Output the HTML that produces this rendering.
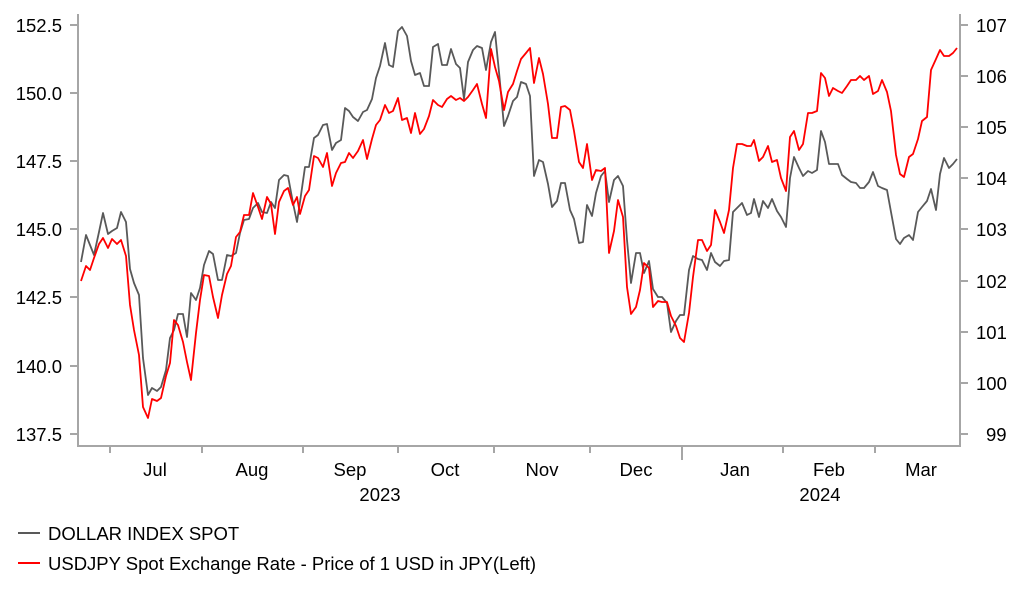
<!DOCTYPE html>
<html><head><meta charset="utf-8"><style>
body{margin:0;background:#fff;}
svg text{font-family:"Liberation Sans",Arial,sans-serif;font-size:18.5px;fill:#000;}
</style></head><body>
<svg width="1022" height="597" xmlns="http://www.w3.org/2000/svg">
<g stroke="#a6a6a6" stroke-width="2" fill="none">
<path d="M78,14V446H960V14"/>
<path d="M70,25H78M70,93H78M70,161H78M70,229H78M70,297H78M70,366H78M70,434H78"/>
<path d="M960,25H968M960,76H968M960,127H968M960,178H968M960,229H968M960,281H968M960,332H968M960,383H968M960,434H968"/>
<path d="M110,446V453M202,446V453M303,446V453M398,446V453M494,446V453M590,446V453M682,446V460M783,446V453M875,446V453"/>
</g>
<g text-anchor="end">
<text x="62" y="32">152.5</text><text x="62" y="100">150.0</text><text x="62" y="168">147.5</text><text x="62" y="236">145.0</text><text x="62" y="304">142.5</text><text x="62" y="373">140.0</text><text x="62" y="441">137.5</text>
</g>
<g text-anchor="start">
<text x="976" y="32">107</text><text x="976" y="83">106</text><text x="976" y="134">105</text><text x="976" y="185">104</text><text x="976" y="236">103</text><text x="976" y="288">102</text><text x="976" y="339">101</text><text x="976" y="390">100</text><text x="986" y="441">99</text>
</g>
<g text-anchor="middle">
<text x="155" y="476">Jul</text><text x="252" y="476">Aug</text><text x="350" y="476">Sep</text><text x="445" y="476">Oct</text><text x="542" y="476">Nov</text><text x="636" y="476">Dec</text><text x="735" y="476">Jan</text><text x="829" y="476">Feb</text><text x="921" y="476">Mar</text>
<text x="380" y="501">2023</text><text x="820" y="501">2024</text>
</g>
<polyline fill="none" stroke="#595959" stroke-width="1.8" stroke-linejoin="round" points="81,262 86,235 90,245 94,255 99,232 103,213 108,234 112,231 117,228 121,212 126,222 130,269 134,283 139,295 143,358 148,395 152,388 157,391 161,387 166,370 170,338 174,330 178,314 183,314 187,337 191,293 196,300 200,288 204,265 209,251 213,254 218,280 222,280 227,255 231,256 236,253 240,233 244,220 249,219 253,208 258,203 262,212 267,213 271,202 275,208 279,180 284,175 288,176 293,203 297,222 300,202 305,167 309,167 314,138 318,135 323,125 327,124 332,150 336,143 341,140 345,108 349,111 353,117 358,121 363,112 367,110 372,99 376,78 380,66 385,43 389,65 393,67 398,31 402,27 407,36 411,61 415,75 420,73 424,86 429,86 433,47 438,44 442,65 447,65 451,49 456,64 460,68 464,99 468,62 473,50 477,46 482,48 486,70 491,42 495,32 499,72 504,126 508,116 513,101 517,97 521,82 526,84 530,96 534,176 539,160 543,162 548,184 552,207 557,201 561,183 565,183 570,210 574,219 579,243 583,242 587,205 592,216 596,193 601,176 605,171 609,202 614,180 618,176 623,186 627,240 631,283 636,253 640,253 644,273 649,261 653,289 658,297 662,297 667,303 671,332 676,321 680,315 684,315 689,270 693,256 698,259 702,260 707,270 711,253 715,262 720,266 724,261 729,260 733,212 738,207 742,203 747,215 751,213 754,199 759,217 763,201 768,208 772,199 777,211 781,217 786,227 790,178 794,157 799,168 803,176 808,171 812,173 817,170 821,131 825,142 829,164 833,164 838,164 842,175 847,179 851,182 856,183 860,188 864,188 869,182 873,172 878,186 882,188 887,190 891,212 896,239 900,244 904,238 909,235 913,240 918,212 922,207 927,201 931,189 936,210 940,174 944,158 949,168 953,164 957,159"/>
<polyline fill="none" stroke="#ff0000" stroke-width="1.8" stroke-linejoin="round" points="81,281 86,266 90,270 94,258 99,244 103,238 108,248 112,239 117,244 121,240 126,256 130,305 134,330 139,355 143,407 148,418 152,399 157,401 161,398 166,376 170,363 174,320 178,325 183,342 187,362 191,380 196,333 200,300 204,275 209,276 213,297 218,318 222,295 227,274 231,266 236,237 240,232 244,215 249,215 253,193 258,207 262,219 267,197 271,204 275,234 279,202 284,191 288,188 293,205 297,197 300,214 305,196 309,190 314,156 318,158 323,167 327,153 332,186 336,173 341,163 345,162 349,153 353,158 358,151 363,140 367,159 372,139 376,125 380,120 385,105 389,113 393,111 398,98 402,120 407,118 411,133 415,113 420,134 424,129 429,116 433,100 438,105 442,107 447,99 451,96 456,100 460,98 464,101 468,97 473,90 477,84 482,104 486,118 491,49 495,67 499,81 504,110 508,92 513,84 517,71 521,59 526,53 530,48 534,83 539,58 543,74 548,104 552,138 557,138 561,107 565,106 570,110 574,131 579,162 583,168 587,144 592,180 596,170 601,171 605,168 609,253 614,231 618,200 623,217 627,287 631,314 636,307 640,290 644,263 649,268 653,307 658,301 662,302 667,302 671,316 676,326 680,338 684,342 689,313 693,277 698,240 702,240 707,251 711,245 715,210 720,222 724,233 729,210 733,168 737,144 742,144 747,146 751,146 754,140 759,161 763,157 768,146 772,162 777,160 781,178 786,191 790,137 794,131 799,150 803,144 808,113 812,113 817,111 821,73 825,78 829,96 833,88 838,91 842,93 847,86 851,80 856,80 860,76 864,80 869,76 873,94 878,91 882,80 887,92 891,111 896,155 900,174 904,177 909,157 913,154 918,139 922,121 927,117 931,70 936,59 940,50 944,56 949,56 953,53 957,48"/>
<line x1="18" y1="533" x2="40" y2="533" stroke="#595959" stroke-width="2"/>
<text x="48" y="540">DOLLAR INDEX SPOT</text>
<line x1="18" y1="563" x2="40" y2="563" stroke="#ff0000" stroke-width="2"/>
<text x="48" y="570">USDJPY Spot Exchange Rate - Price of 1 USD in JPY(Left)</text>
</svg>
</body></html>
